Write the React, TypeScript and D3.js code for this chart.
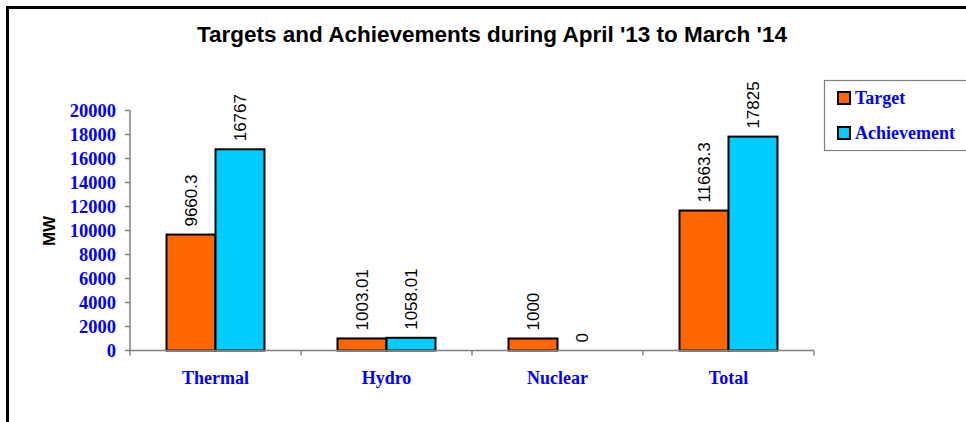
import React from "react";
import * as d3 from "d3";

const categories = ["Thermal", "Hydro", "Nuclear", "Total"];
const seriesNames = ["Target", "Achievement"];
const targetValues = [9660.3, 1003.01, 1000, 11663.3];
const achievementValues = [16767, 1058.01, 0, 17825];
const targetLabels = ["9660.3", "1003.01", "1000", "11663.3"];
const achievementLabels = ["16767", "1058.01", "0", "17825"];
const yTicks = [0, 2000, 4000, 6000, 8000, 10000, 12000, 14000, 16000, 18000, 20000];
const colors = ["#FF6600", "#00CCFF"];

const W = 966;
const H = 422;
const plotLeft = 130;
const plotRight = 814;
const plotTop = 110.5;
const plotBottom = 350.5;
const groupWidth = 98;

export default function App() {
  const x0 = d3.scaleBand<string>().domain(categories).range([plotLeft, plotRight]).padding(0);
  const x1 = d3.scaleBand<string>().domain(seriesNames).range([0, groupWidth]).padding(0);
  const y = d3.scaleLinear().domain([0, 20000]).range([plotBottom, plotTop]);
  const series = [
    { name: seriesNames[0], values: targetValues, labels: targetLabels, color: colors[0] },
    { name: seriesNames[1], values: achievementValues, labels: achievementLabels, color: colors[1] },
  ];
  const step = x0.step();
  const blue = "#0000FF";
  const serif = "'Liberation Serif', 'Times New Roman', serif";
  const sans = "'Liberation Sans', Arial, sans-serif";

  return (
    <div style={{ position: "absolute", left: 0, top: 0 }}>
      <svg width={W} height={H} style={{ display: "block", background: "#fff" }}>
        <rect x={0} y={0} width={W} height={H} fill="#fff" />
        {/* border */}
        <line x1={7.5} y1={6} x2={7.5} y2={H} stroke="#000" strokeWidth={3} />
        <line x1={6} y1={7.5} x2={W} y2={7.5} stroke="#000" strokeWidth={3} />

        <text x={492} y={42} textAnchor="middle" fontFamily={sans} fontWeight="bold" fontSize={22.5} fill="#000">
          Targets and Achievements during April '13 to March '14
        </text>

        {/* y axis */}
        <line x1={plotLeft} y1={plotTop} x2={plotLeft} y2={plotBottom} stroke="#808080" strokeWidth={1.5} />
        {yTicks.map((t) => (
          <g key={t}>
            <line x1={plotLeft - 5} x2={plotLeft} y1={y(t)} y2={y(t)} stroke="#808080" strokeWidth={1.5} />
            <text x={116} y={y(t)} dy="0.35em" textAnchor="end" fontFamily={serif} fontWeight="bold" fontSize={18.5} fill={blue}>
              {t}
            </text>
          </g>
        ))}
        <text
          transform={`translate(55,231) rotate(-90)`}
          textAnchor="middle"
          fontFamily={sans}
          fontWeight="bold"
          fontSize={17}
          fill="#000"
        >
          MW
        </text>

        {/* bars */}
        {categories.map((c, i) => {
          const gx = (x0(c) as number) + (step - groupWidth) / 2;
          return (
            <g key={c}>
              {series.map((s) => {
                const bx = gx + (x1(s.name) as number);
                const bw = x1.bandwidth();
                const v = s.values[i];
                const top = y(v);
                const cx = bx + bw / 2;
                return (
                  <g key={s.name}>
                    {v > 0 && (
                      <rect x={bx} y={top} width={bw} height={plotBottom - top} fill={s.color} stroke="#000" strokeWidth={2} />
                    )}
                    <text
                      transform={`translate(${cx},${top - 8}) rotate(-90)`}
                      dy="0.35em"
                      textAnchor="start"
                      fontFamily={sans}
                      fontSize={17}
                      fill="#000"
                    >
                      {s.labels[i]}
                    </text>
                  </g>
                );
              })}
            </g>
          );
        })}

        {/* x axis */}
        <line x1={plotLeft} y1={plotBottom} x2={plotRight} y2={plotBottom} stroke="#808080" strokeWidth={1.5} />
        {[...categories.map((c) => x0(c) as number), plotRight].map((tx, i) => (
          <line key={i} x1={tx} x2={tx} y1={plotBottom} y2={plotBottom + 5} stroke="#808080" strokeWidth={1.5} />
        ))}
        {categories.map((c) => (
          <text
            key={c}
            x={(x0(c) as number) + step / 2}
            y={384}
            textAnchor="middle"
            fontFamily={serif}
            fontWeight="bold"
            fontSize={18}
            fill={blue}
          >
            {c}
          </text>
        ))}

        {/* legend */}
        <rect x={824.5} y={80.5} width={150} height={70} fill="#fff" stroke="#808080" strokeWidth={1.2} />
        {series.map((s, i) => (
          <g key={s.name} transform={`translate(0,${i * 35})`}>
            <rect x={838} y={92} width={12} height={12} fill={s.color} stroke="#000" strokeWidth={2} />
            <text x={855} y={104} fontFamily={serif} fontWeight="bold" fontSize={18} fill={blue}>
              {s.name}
            </text>
          </g>
        ))}
      </svg>
    </div>
  );
}
